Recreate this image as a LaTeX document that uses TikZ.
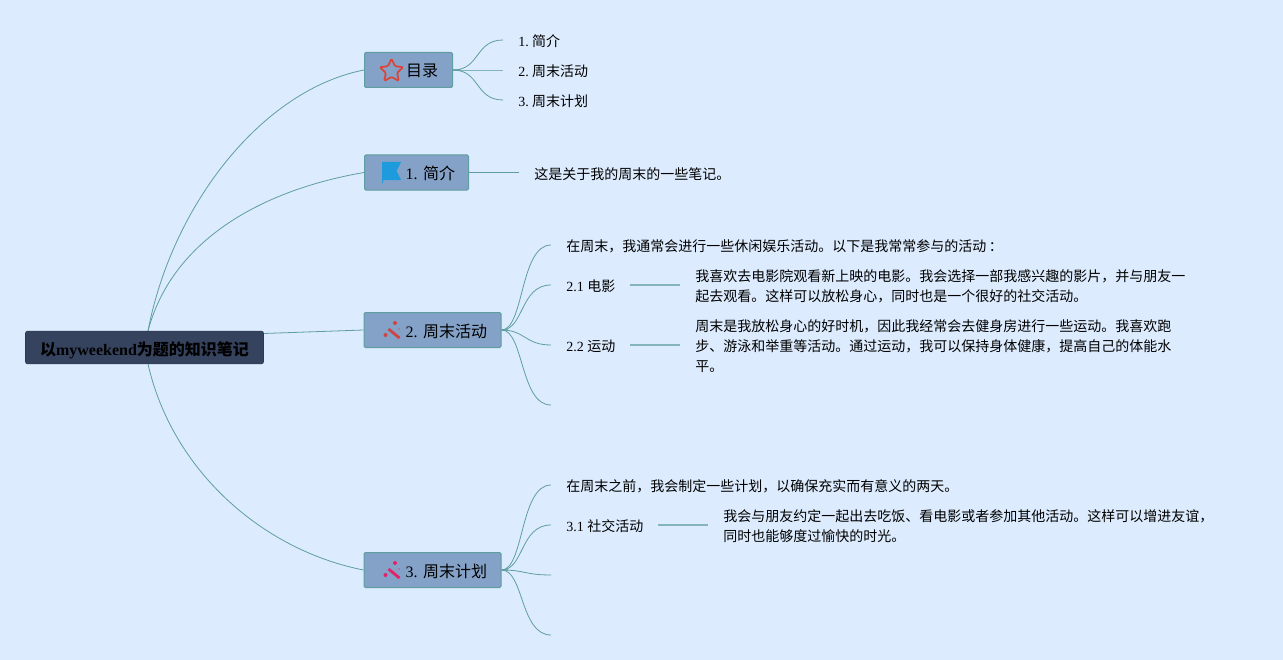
\documentclass[tikz,border=0pt]{standalone}
\usepackage{fontspec}
\setmainfont{Liberation Serif}
\newfontfamily\cjk{Noto Sans CJK SC}
\newcommand{\zh}[1]{{\cjk #1}}
\usetikzlibrary{backgrounds,shapes.geometric}
\definecolor{pagebg}{HTML}{DCEBFD}
\definecolor{boxfill}{HTML}{84A2C8}
\definecolor{edgecol}{HTML}{5F9EA0}
\definecolor{rootfill}{HTML}{36435F}
\definecolor{starred}{HTML}{DB4437}
\definecolor{flagblue}{HTML}{1E9BDC}
\definecolor{wandred}{HTML}{CC4444}
\definecolor{wandpink}{HTML}{E0246A}
\tikzset{
  x=0.75pt,y=-0.75pt,
  rootbox/.style={draw=rootfill!85!black,line width=0.4pt,fill=rootfill,rounded corners=1.5pt,inner sep=0pt,minimum width=178.5pt,minimum height=24.5pt,text height=12.5pt,text depth=0.5pt,font=\fontsize{12}{14}\selectfont\bfseries,text=black},
  topic/.style={draw=edgecol,line width=0.75pt,fill=boxfill,rounded corners=1pt,inner sep=0pt,minimum height=26.25pt,text height=11pt,text depth=0.5pt,font=\fontsize{12}{14}\selectfont,text=black},
  txt/.style={anchor=west,inner sep=0pt,align=left,font=\fontsize{10.5}{15}\selectfont,text=black},
  edge/.style={draw=edgecol,line width=0.6pt},
  stub/.style={draw=edgecol!70!pagebg,line width=0.9pt},
  wand/.style={line width=2.1pt},
}
\newcommand{\ic}{\hspace*{20.25pt}}
\begin{document}
\begin{tikzpicture}
\useasboundingbox (0,0) rectangle (1283,660);
% nodes
\node[rootbox] (root) at (144.5,347.5) {\zh{\bfseries 以}myweekend\zh{\bfseries 为题的知识笔记}};
\node[topic,minimum width=66pt] (toc) at (408.5,70) {\ic\zh{目录}};
\node[topic,minimum width=78pt] (intro) at (416.5,172.5) {\ic\hspace{0.6pt}1. \zh{简介}};
\node[topic,minimum width=102.75pt] (wk) at (432.5,330) {\ic\hspace{0.6pt}2. \zh{周末活动}};
\node[topic,minimum width=102.75pt] (plan) at (432.5,570) {\ic\hspace{0.6pt}3. \zh{周末计划}};

\node[txt] (t1) at (518,41) {1.\hspace{2.6pt}\zh{简介}};
\node[txt] (t2) at (518,71) {2.\hspace{2.6pt}\zh{周末活动}};
\node[txt] (t3) at (518,101) {3.\hspace{2.6pt}\zh{周末计划}};
\node[txt] (i1) at (534,174) {\zh{这是关于我的周末的一些笔记。}};
\node[txt] (w0) at (566,246) {\zh{在周末，我通常会进行一些休闲娱乐活动。以下是我常常参与的活动\hspace{2pt}：}};
\node[txt] (w1) at (566,286) {2.1 \zh{电影}};
\node[txt] (w1t) at (695,286) {\cjk 我喜欢去电影院观看新上映的电影。我会选择一部我感兴趣的影片，并与朋友一\\\cjk 起去观看。这样可以放松身心，同时也是一个很好的社交活动。};
\node[txt] (w2) at (566,346) {2.2 \zh{运动}};
\node[txt] (w2t) at (695,346) {\cjk 周末是我放松身心的好时机，因此我经常会去健身房进行一些运动。我喜欢跑\\\cjk 步、游泳和举重等活动。通过运动，我可以保持身体健康，提高自己的体能水\\\cjk 平。};
\node[txt] (p0) at (566,486) {\zh{在周末之前，我会制定一些计划，以确保充实而有意义的两天。}};
\node[txt] (p1) at (566,526) {3.1 \zh{社交活动}};
\node[txt] (p1t) at (723,526) {\cjk 我会与朋友约定一起出去吃饭、看电影或者参加其他活动。这样可以增进友谊，\\\cjk 同时也能够度过愉快的时光。};

% free ends of connectors
\coordinate (rT) at (148,331);
\coordinate (rB) at (148,364);
\coordinate (e1) at (503,40);
\coordinate (e2) at (503,70);
\coordinate (e3) at (503,100);
\coordinate (e4) at (519,172.5);
\coordinate (w0e) at (551,245);
\coordinate (w1e) at (551,285);
\coordinate (w2e) at (551,345);
\coordinate (w3e) at (551,405);
\coordinate (w1a) at (630,285);
\coordinate (w1b) at (680,285);
\coordinate (w2a) at (630,345);
\coordinate (w2b) at (680,345);
\coordinate (p0e) at (551,485);
\coordinate (p1e) at (551,525);
\coordinate (p2e) at (551,575);
\coordinate (p3e) at (551,635);
\coordinate (p1a) at (658,525);
\coordinate (p1b) at (708,525);

\begin{scope}[on background layer]
\fill[pagebg] (0,0) rectangle (1283,660);
% root connectors
\draw[edge] (rT) .. controls (172,205) and (262,90) .. (toc.west);
\draw[edge] (rT) .. controls (172,240) and (262,190) .. (intro.west);
\draw[edge] (root.east) ++(0,-14) -- (wk.west);
\draw[edge] (rB) .. controls (172,470) and (262,550) .. (plan.west);
% contents
\draw[stub] (toc.east) -- ++(8,0);
\draw[edge] (toc.east) .. controls (480,70) and (475,40) .. (e1);
\draw[edge,edgecol!70!pagebg] (toc.east) -- (e2);
\draw[edge] (toc.east) .. controls (480,70) and (475,100) .. (e3);
\draw[edge] (intro.east) -- (e4);
\draw[stub] (wk.east) -- ++(6,0);
\draw[edge] (wk.east) .. controls (524,330) and (520,245) .. (w0e);
\draw[edge] (wk.east) .. controls (524,330) and (520,285) .. (w1e);
\draw[edge] (wk.east) .. controls (525,330) and (525,345) .. (w2e);
\draw[edge] (wk.east) .. controls (524,330) and (520,405) .. (w3e);
\draw[edge,edgecol!70!pagebg,line width=0.9pt] (w1a) -- (w1b);
\draw[edge,edgecol!70!pagebg,line width=0.9pt] (w2a) -- (w2b);
\draw[stub] (plan.east) -- ++(6,0);
\draw[edge] (plan.east) .. controls (524,570) and (520,485) .. (p0e);
\draw[edge] (plan.east) .. controls (524,570) and (520,525) .. (p1e);
\draw[edge] (plan.east) .. controls (525,570) and (525,575) .. (p2e);
\draw[edge] (plan.east) .. controls (524,570) and (520,635) .. (p3e);
\draw[edge,edgecol!70!pagebg,line width=0.9pt] (p1a) -- (p1b);
\end{scope}

% icons
\node[star,star points=5,star point ratio=2.1,draw=starred,line width=1.3pt,rounded corners=1pt,fill=none,minimum size=18.5pt,inner sep=0pt] (staricon) at (391.5,71) {};
\fill[flagblue] (382,162) -- (401,162) -- (396.5,171) -- (401,180) -- (383,180) -- (383,183) -- (382,183) -- cycle;
\foreach \yy/\cc in {0/wandred,240/wandpink}{
  \begin{scope}[yshift=-\yy*0.75pt]
  \draw[wand,\cc] (388.5,329) -- (399.5,338);
  \fill[\cc] (395,323) circle (1.5pt);
  \fill[\cc] (385.5,335) circle (1.5pt);
  \fill[\cc!60!boxfill] (399,329) circle (0.7pt);
  \end{scope}
}
\end{tikzpicture}
\end{document}
